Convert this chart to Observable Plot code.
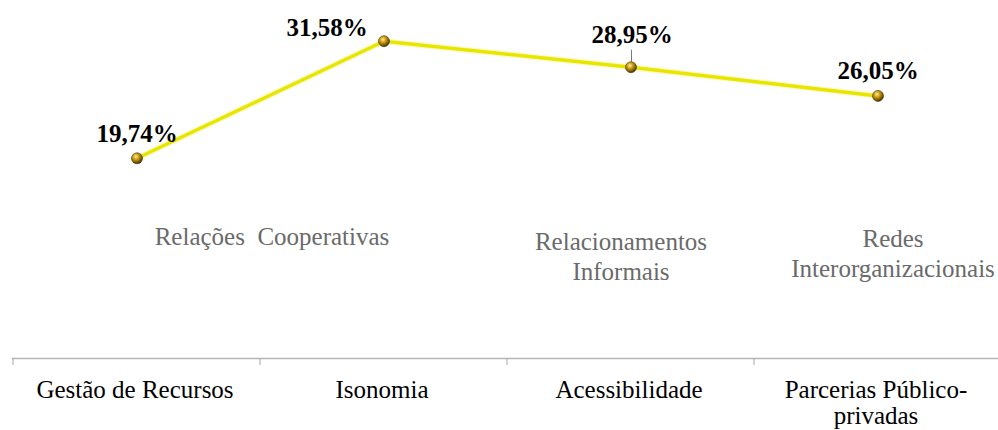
<!DOCTYPE html>
<html>
<head>
<meta charset="utf-8">
<script src="https://cdn.jsdelivr.net/npm/d3@7"></script>
<script src="https://cdn.jsdelivr.net/npm/@observablehq/plot@0.6"></script>
<style>
  html, body { margin: 0; padding: 0; background: #fff; }
  #chart svg { display: block; }
  #chart svg text { font-family: 'Liberation Serif', 'Times New Roman', serif !important; }
</style>
</head>
<body>
<div id="chart"></div>
<script>
const categories = ["Gestão de Recursos", "Isonomia", "Acessibilidade", "Parcerias Público-\nprivadas"];
const values = [19.74, 31.58, 28.95, 26.05];
const valueLabels = ["19,74%", "31,58%", "28,95%", "26,05%"];
const groupLabels = ["Relações  Cooperativas", "Relacionamentos\nInformais", "Redes\nInterorganizacionais"];

const data = categories.map((c, i) => ({cat: c, value: values[i], label: valueLabels[i]}));

const serif = "Liberation Serif";
const labelStyle = {fontFamily: serif, fontSize: 25, fontWeight: "bold", fill: "#000", text: "label", x: "cat", y: "value"};

function boundaryTicks(index, scales) {
  const g = d3.create("svg:g");
  const x = scales.x, y = scales.y;
  categories.forEach(c => {
    const px = x(c);
    g.append("line").attr("x1", px).attr("x2", px).attr("y1", y(0) + 5).attr("y2", y(0) + 12)
      .attr("stroke", "#a8a8a8").attr("stroke-width", 1);
  });
  return g.node();
}
function leader(index, scales) {
  const x = scales.x, y = scales.y;
  const bw = x(categories[1]) - x(categories[0]);
  const px = x(data[2].cat) + bw / 2 + 1;
  const py = y(data[2].value);
  const g = d3.create("svg:g");
  g.append("line").attr("x1", px).attr("x2", px).attr("y1", py - 5).attr("y2", py - 17)
    .attr("stroke", "#777").attr("stroke-width", 1);
  return g.node();
}

const chart = Plot.plot({
  width: 998,
  height: 430,
  marginLeft: 12,
  marginRight: 0,
  marginTop: 0,
  marginBottom: 72,
  style: {fontFamily: serif, background: "#fff"},
  x: {type: "band", domain: categories, range: [12, 1001], padding: 0},
  y: {domain: [0, 36], range: [353, -3], axis: null},
  marks: [
    Plot.ruleY([0], {dy: 5, stroke: "#b4b4b4", strokeWidth: 1.5}),
    boundaryTicks,
    Plot.axisX({anchor: "bottom", tickSize: 0, tickPadding: 21, fontSize: 25, fontFamily: serif, fill: "#000", lineHeight: 1.05, dx: -2, label: null}),
    Plot.text([groupLabels[0]], {frameAnchor: "top", x: () => categories[1], dx: -112, dy: 227, lineAnchor: "top", fontSize: 25, fontFamily: serif, fill: "#6a6a6a", text: d => d}),
    Plot.text([groupLabels[1]], {frameAnchor: "top", x: () => categories[2], dx: -10, dy: 229, lineAnchor: "top", lineHeight: 1.18, fontSize: 25, fontFamily: serif, fill: "#6a6a6a", text: d => d}),
    Plot.text([groupLabels[2]], {frameAnchor: "top", x: () => categories[3], dx: 15, dy: 226, lineAnchor: "top", lineHeight: 1.18, fontSize: 25, fontFamily: serif, fill: "#6a6a6a", text: d => d}),
    Plot.line(data, {x: "cat", y: "value", stroke: "#f7f26a", strokeWidth: 6, strokeOpacity: 0.35}),
    Plot.line(data, {x: "cat", y: "value", stroke: "#e8e600", strokeWidth: 3.5}),
    leader,
    Plot.dot(data, {x: "cat", y: "value", r: 5.5, fill: "url(#goldball)", stroke: "#4a3600", strokeWidth: 0.6}),
    Plot.text([data[0]], {...labelStyle, dx: 0, dy: -24}),
    Plot.text([data[1]], {...labelStyle, dx: -57, dy: -13}),
    Plot.text([data[2]], {...labelStyle, dx: 1, dy: -32}),
    Plot.text([data[3]], {...labelStyle, dx: 0, dy: -25})
  ]
});

const svgNS = "http://www.w3.org/2000/svg";
const defs = document.createElementNS(svgNS, "defs");
defs.innerHTML = '<radialGradient id="goldball" cx="0.4" cy="0.35" r="0.65">' +
  '<stop offset="0" stop-color="#fff2a0"/>' +
  '<stop offset="0.35" stop-color="#d9a820"/>' +
  '<stop offset="0.8" stop-color="#7a5a00"/>' +
  '<stop offset="1" stop-color="#3d2c00"/></radialGradient>';
chart.insertBefore(defs, chart.firstChild);
document.getElementById("chart").appendChild(chart);
</script>
</body>
</html>
